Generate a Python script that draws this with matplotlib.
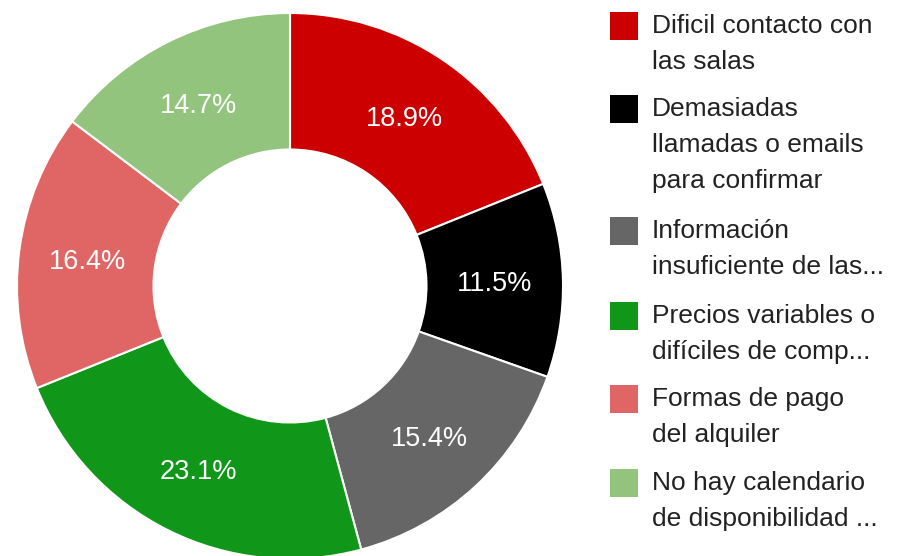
import matplotlib
matplotlib.use("Agg")
import matplotlib.pyplot as plt
from matplotlib.patches import Rectangle

plt.rcParams['font.family'] = ['Liberation Sans', 'DejaVu Sans']

categories = [
    "Dificil contacto con\nlas salas",
    "Demasiadas\nllamadas o emails\npara confirmar",
    "Información\ninsuficiente de las...",
    "Precios variables o\ndifíciles de comp...",
    "Formas de pago\ndel alquiler",
    "No hay calendario\nde disponibilidad ...",
]
values = [18.9, 11.5, 15.4, 23.1, 16.4, 14.7]
colors = ["#cc0000", "#000000", "#666666", "#109618", "#e06666", "#93c47d"]

W, H = 905, 556
fig = plt.figure(figsize=(W / 100, H / 100), dpi=100)

# donut
cx, cy, R = 290, 286, 273
ax = fig.add_axes([(cx - R) / W, (H - cy - R) / H, 2 * R / W, 2 * R / H])
wedges, texts, autotexts = ax.pie(
    values, colors=colors, startangle=90, counterclock=False,
    wedgeprops=dict(width=0.5, edgecolor="white", linewidth=1.5),
    autopct="%.1f%%", pctdistance=0.75,
    textprops=dict(color="white", fontsize=19.5),
)
for t in autotexts:
    t.set_va("center_baseline")
ax.set_xlim(-1, 1)
ax.set_ylim(-1, 1)
ax.set_aspect("equal")
ax.axis("off")

# legend
sq_tops = [12, 95, 217, 302, 385, 469]
sq = 28
sx, tx = 610, 652
line_h = 36
for top, lab, col in zip(sq_tops, categories, colors):
    fig.patches.append(Rectangle((sx / W, (H - top - sq) / H), sq / W, sq / H,
                                 transform=fig.transFigure, facecolor=col,
                                 edgecolor="none"))
    yc = top + sq / 2
    for i, line in enumerate(lab.split("\n")):
        fig.text(tx / W, (H - (yc + i * line_h)) / H, line, fontsize=19,
                 color="#222222", va="center", ha="left")

fig.savefig("out.png", dpi=100, facecolor="white")
